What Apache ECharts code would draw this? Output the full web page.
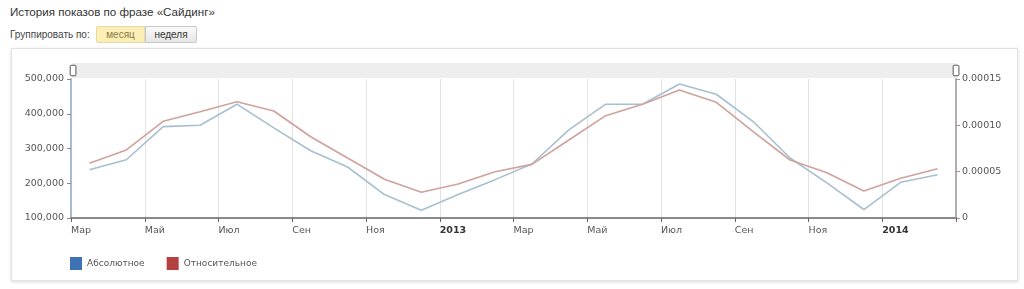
<!DOCTYPE html>
<html>
<head>
<meta charset="utf-8">
<script src="https://cdn.jsdelivr.net/npm/echarts@6/dist/echarts.min.js"></script>
<style>
  html, body { margin: 0; padding: 0; background: #fff; }
  body { width: 1024px; height: 289px; position: relative; overflow: hidden; font-family: "Liberation Sans", Arial, sans-serif; }
  #title { position: absolute; left: 10px; top: 5px; font-size: 11.6px; color: #333; }
  #group { position: absolute; left: 10px; top: 29px; font-size: 10px; color: #444; }
  .btn { position: absolute; top: 26px; height: 17px; line-height: 16px; font-size: 10px; text-align: center; box-sizing: border-box; }
  #b1 { left: 96px; width: 49px; background: #fbefb6; border: 1px solid #e6d9a3; color: #8c7a45; border-radius: 2px 0 0 2px; }
  #b2 { left: 145px; width: 52px; background: linear-gradient(#fafafa, #e6e6e6); border: 1px solid #c8c8c8; color: #333; border-radius: 0 2px 2px 0; }
  #box { position: absolute; left: 11px; top: 48px; width: 1005px; height: 231px; border: 1px solid #e2e2e2; box-shadow: 0 1px 3px rgba(0,0,0,0.15); background: #fff; }
  #chart { position: absolute; left: 0; top: 0; width: 1024px; height: 289px; }
</style>
</head>
<body>
<div id="title">История показов по фразе «Сайдинг»</div>
<div id="group">Группировать по:</div>
<div class="btn" id="b1">месяц</div>
<div class="btn" id="b2">неделя</div>
<div id="box"></div>
<div id="chart"></div>
<script>
// Months (data points sit mid-month)
const months = ['2012-03','2012-04','2012-05','2012-06','2012-07','2012-08','2012-09','2012-10','2012-11','2012-12',
                '2013-01','2013-02','2013-03','2013-04','2013-05','2013-06','2013-07','2013-08','2013-09','2013-10',
                '2013-11','2013-12','2014-01','2014-02'];
// Абсолютное (shows)
const absoluteValues = [239000, 267700, 363000, 367000, 427500, 359500, 293500, 246800, 167400, 122400,
                        167400, 210400, 255400, 353800, 427500, 427500, 485700, 456100, 377600, 272600,
                        200900, 124400, 202700, 224700];
// Относительное (share)
const relativeValues = [5.90e-5, 7.34e-5, 1.043e-4, 1.147e-4, 1.255e-4, 1.155e-4, 8.77e-5, 6.47e-5, 4.18e-5, 2.77e-5,
                        3.67e-5, 5.00e-5, 5.79e-5, 8.42e-5, 1.104e-4, 1.227e-4, 1.381e-4, 1.249e-4, 9.31e-5, 6.26e-5,
                        4.89e-5, 2.91e-5, 4.28e-5, 5.32e-5];
// X tick labels every two months (index 0 = Mar 2012)
const xTickLabels = ['Мар','Май','Июл','Сен','Ноя','2013','Мар','Май','Июл','Сен','Ноя','2014'];
const leftTicks = [100000, 200000, 300000, 400000, 500000];
const rightTicks = [0, 0.00005, 0.00010, 0.00015];
const seriesNames = ['Абсолютное', 'Относительное'];

const absData = absoluteValues.map((v, i) => [i + 0.5, v]);
const relData = relativeValues.map((v, i) => [i + 0.5, v]);

const chart = echarts.init(document.getElementById('chart'), null, { renderer: 'canvas' });
const labelFont = { color: '#555', fontSize: 9.5, fontFamily: 'DejaVu Sans' };

chart.setOption({
  animation: false,
  backgroundColor: 'transparent',
  grid: { left: 71, right: 68, top: 79, bottom: 71 },
  xAxis: {
    type: 'value', min: 0, max: 24, interval: 2,
    axisLine: { show: true, lineStyle: { color: '#8a8a8a', width: 2 } },
    axisTick: { show: true, length: 4, lineStyle: { color: '#666' } },
    splitLine: { show: true, lineStyle: { color: '#e3e3e3', width: 1 } },
    axisLabel: Object.assign({}, labelFont, {
      margin: 8, align: 'left',
      formatter: function (v) {
        const idx = Math.round(v / 2);
        const t = xTickLabels[idx];
        if (t === undefined) return '';
        return /^\d{4}$/.test(t) ? '{b|' + t + '}' : t;
      },
      rich: { b: { fontWeight: 'bold', fontSize: 9.5, color: '#333', fontFamily: 'DejaVu Sans' } }
    })
  },
  yAxis: [
    {
      type: 'value', position: 'left', min: leftTicks[0], max: leftTicks[leftTicks.length - 1], interval: 100000,
      axisLine: { show: true, lineStyle: { color: '#a9bccf', width: 2 } },
      axisTick: { show: true, length: 4, lineStyle: { color: '#888' } },
      splitLine: { show: false },
      axisLabel: Object.assign({}, labelFont, {
        margin: 7,
        formatter: function (v) { return v.toLocaleString('en-US'); }
      })
    },
    {
      type: 'value', position: 'right', min: rightTicks[0], max: rightTicks[rightTicks.length - 1], interval: 0.00005,
      axisLine: { show: true, lineStyle: { color: '#b7aaaa', width: 2 } },
      axisTick: { show: true, length: 4, lineStyle: { color: '#999' } },
      splitLine: { show: false },
      axisLabel: Object.assign({}, labelFont, {
        margin: 6,
        formatter: function (v) { return v === 0 ? '0' : v.toFixed(5); }
      })
    }
  ],
  dataZoom: [{
    type: 'slider', xAxisIndex: 0, filterMode: 'none', start: 0, end: 100,
    top: 63, height: 15, left: 71, right: 68,
    backgroundColor: '#eeeeee', borderColor: 'transparent', fillerColor: 'rgba(0,0,0,0)',
    showDataShadow: false, showDetail: false, brushSelect: false, moveHandleSize: 0,
    handleIcon: 'path://M1,0 H5 Q6,0 6,1 V10 Q6,11 5,11 H1 Q0,11 0,10 V1 Q0,0 1,0 Z',
    handleSize: '70%',
    handleStyle: { color: '#fff', borderColor: '#555', borderWidth: 1 },
    emphasis: { handleStyle: { color: '#fff', borderColor: '#555' } }
  }],
  legend: {
    left: 65, top: 252, icon: 'rect', itemWidth: 12, itemHeight: 13, itemGap: 22,
    textStyle: { color: '#555', fontSize: 9, fontFamily: 'DejaVu Sans' },
    data: [
      { name: seriesNames[0], itemStyle: { color: '#3f72b5' } },
      { name: seriesNames[1], itemStyle: { color: '#b4413f' } }
    ]
  },
  series: [
    {
      name: seriesNames[0], type: 'line', yAxisIndex: 0, data: absData,
      showSymbol: false, symbol: 'none',
      itemStyle: { color: '#3f72b5' },
      lineStyle: { color: '#a6bfd3', width: 1.6 }
    },
    {
      name: seriesNames[1], type: 'line', yAxisIndex: 1, data: relData,
      showSymbol: false, symbol: 'none',
      itemStyle: { color: '#b4413f' },
      lineStyle: { color: '#cfa29c', width: 1.6 }
    }
  ]
});
</script>
</body>
</html>
